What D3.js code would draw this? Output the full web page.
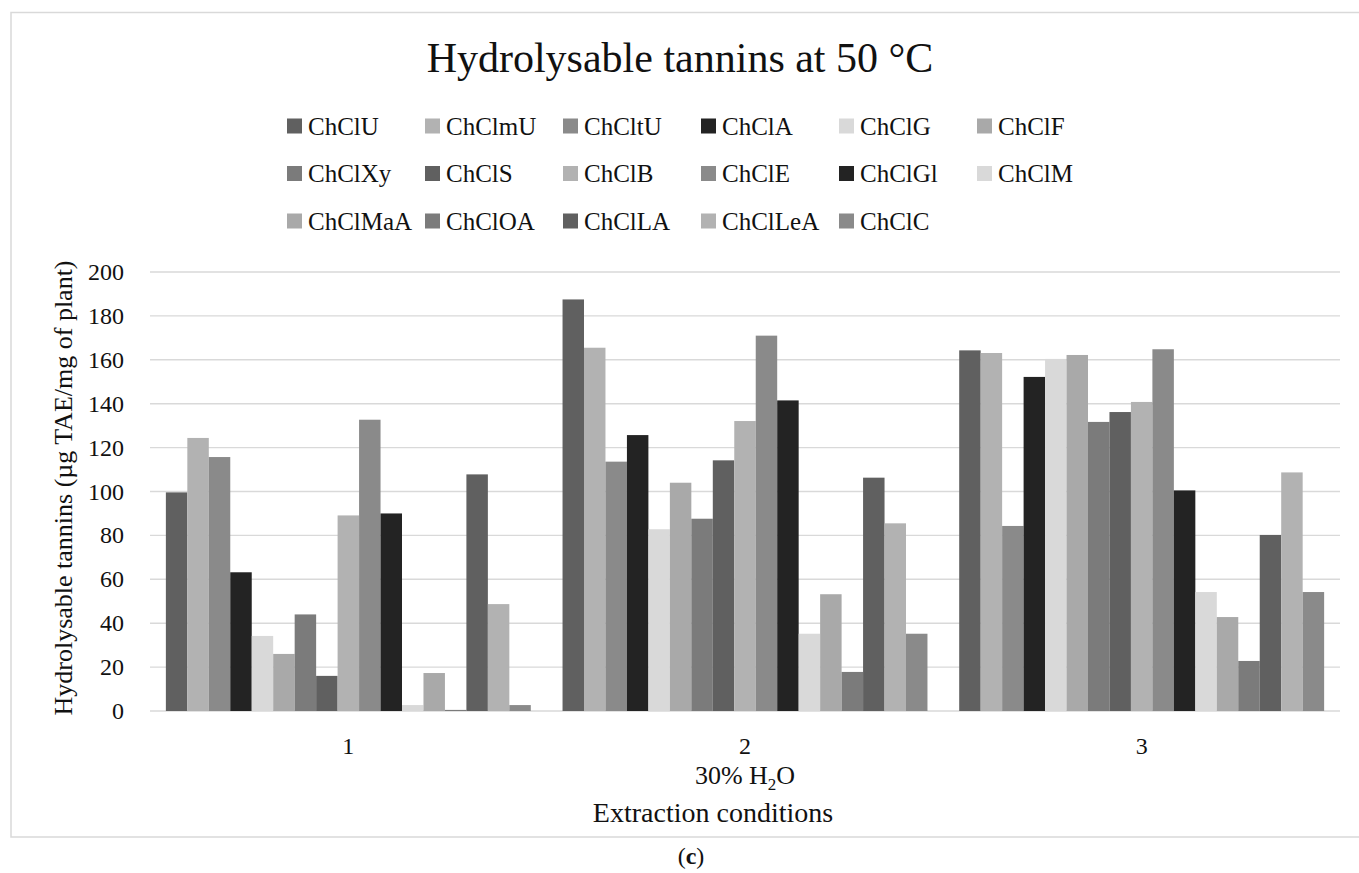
<html>
<head>
  <title>Hydrolysable tannins at 50 °C</title>
  <script src="https://d3js.org/d3.v7.min.js"></script>
  <style>
    body { margin: 0; background: #fff; }
    text { font-family: 'Liberation Serif', 'Times New Roman', serif; fill: #111; }
  </style>
</head>
<body>
  <svg width="1359" height="873"></svg>
  <script>
    // extraction conditions (x categories)
    var categories = ["1", "2", "3"];
    // solvents, in legend order
    var solvents = ["ChClU", "ChClmU", "ChCltU", "ChClA", "ChClG", "ChClF",
      "ChClXy", "ChClS", "ChClB", "ChClE", "ChClGl", "ChClM",
      "ChClMaA", "ChClOA", "ChClLA", "ChClLeA", "ChClC"];
    // µg TAE / mg of plant, one array per extraction condition
    var cond1 = [99.6, 124.4, 115.7, 63.2, 34.2, 26.0, 44.0, 16.0, 89.1, 132.7, 90.0, 2.7, 17.3, 0.5, 107.8, 48.7, 2.7];
    var cond2 = [187.5, 165.5, 113.6, 125.7, 82.8, 104.0, 87.6, 114.2, 132.1, 171.0, 141.5, 35.2, 53.2, 17.8, 106.3, 85.5, 35.2];
    var cond3 = [164.3, 163.1, 84.3, 152.2, 160.4, 162.2, 131.7, 136.2, 140.8, 164.8, 100.5, 54.2, 42.8, 22.8, 80.2, 108.7, 54.2];
    var yTicks = [0, 20, 40, 60, 80, 100, 120, 140, 160, 180, 200];

    var palette = ["#606060", "#b2b2b2", "#8a8a8a", "#232323", "#d9d9d9", "#a9a9a9",
      "#7b7b7b", "#606060", "#b2b2b2", "#8a8a8a", "#232323", "#d9d9d9",
      "#a9a9a9", "#7b7b7b", "#606060", "#b2b2b2", "#8a8a8a"];

    var rows = [cond1, cond2, cond3];
    var data = categories.map(function (c, i) {
      return { cat: c, values: solvents.map(function (s, j) { return { name: s, value: rows[i][j] }; }) };
    });

    var svg = d3.select("svg");
    svg.append("rect").attr("width", 1359).attr("height", 873).attr("fill", "#fff");

    // chart frame
    svg.append("rect")
      .attr("x", 11).attr("y", 12.5)
      .attr("width", 1370).attr("height", 824.5)
      .attr("fill", "none").attr("stroke", "#d9d9d9").attr("stroke-width", 1.5);

    var x0 = d3.scaleBand().domain(categories).range([150, 1340]).paddingInner(0.08).paddingOuter(0.04);
    var x1 = d3.scaleBand().domain(solvents).range([0, x0.bandwidth()]);
    var y = d3.scaleLinear().domain([0, 200]).range([711, 272]);
    var color = d3.scaleOrdinal().domain(solvents).range(palette);

    // gridlines
    svg.append("g").selectAll("line")
      .data(yTicks)
      .enter().append("line")
      .attr("x1", 150).attr("x2", 1340)
      .attr("y1", d => y(d)).attr("y2", d => y(d))
      .attr("stroke", "#d9d9d9").attr("stroke-width", 1.4);

    // y tick labels
    svg.append("g").selectAll("text")
      .data(yTicks)
      .enter().append("text")
      .attr("x", 124).attr("y", d => y(d) + 8)
      .attr("text-anchor", "end")
      .style("font-size", "24px")
      .text(d => d);

    // bars
    svg.append("g").selectAll("g")
      .data(data)
      .enter().append("g")
      .attr("transform", d => "translate(" + x0(d.cat) + ",0)")
      .selectAll("rect")
      .data(d => d.values)
      .enter().append("rect")
      .attr("x", d => x1(d.name))
      .attr("width", x1.bandwidth())
      .attr("y", d => y(d.value))
      .attr("height", d => y(0) - y(d.value))
      .attr("fill", d => color(d.name));

    // category labels
    svg.append("g").selectAll("text")
      .data(categories)
      .enter().append("text")
      .attr("x", d => x0(d) + x0.bandwidth() / 2)
      .attr("y", 754)
      .attr("text-anchor", "middle")
      .style("font-size", "24px")
      .text(d => d);

    var grp = svg.append("text")
      .attr("x", 745).attr("y", 784)
      .attr("text-anchor", "middle")
      .style("font-size", "26px");
    grp.append("tspan").text("30% H");
    grp.append("tspan").attr("dy", 6).style("font-size", "17px").text("2");
    grp.append("tspan").attr("dy", -6).text("O");

    svg.append("text")
      .attr("x", 713).attr("y", 822)
      .attr("text-anchor", "middle")
      .style("font-size", "28px")
      .text("Extraction conditions");

    svg.append("text")
      .attr("transform", "translate(72,488) rotate(-90)")
      .attr("text-anchor", "middle")
      .style("font-size", "26px")
      .text("Hydrolysable tannins (µg TAE/mg of plant)");

    svg.append("text")
      .attr("x", 680).attr("y", 72)
      .attr("text-anchor", "middle")
      .style("font-size", "42px")
      .text("Hydrolysable tannins at 50 °C");

    // legend
    var legend = svg.append("g").selectAll("g")
      .data(solvents)
      .enter().append("g")
      .attr("transform", (d, i) => "translate(" + (287 + (i % 6) * 138) + "," + (126 + Math.floor(i / 6) * 47.5) + ")");
    legend.append("rect")
      .attr("x", 0).attr("y", -7.5)
      .attr("width", 15).attr("height", 15)
      .attr("fill", d => color(d));
    legend.append("text")
      .attr("x", 21).attr("y", 8.5)
      .style("font-size", "25px")
      .text(d => d);

    var cap = svg.append("text")
      .attr("x", 691).attr("y", 864)
      .attr("text-anchor", "middle")
      .style("font-size", "24px");
    cap.append("tspan").text("(");
    cap.append("tspan").style("font-weight", "bold").text("c");
    cap.append("tspan").text(")");
  </script>
</body>
</html>
